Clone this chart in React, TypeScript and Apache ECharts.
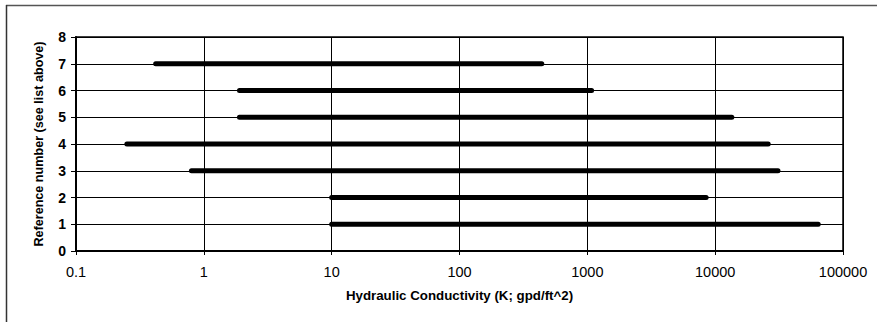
import React, { useEffect, useRef } from "react";
import * as echarts from "echarts";

const refNumbers = [1, 2, 3, 4, 5, 6, 7];
const kMin = [10, 10, 0.8, 0.25, 1.9, 1.9, 0.42];
const kMax = [64000, 8500, 31000, 26000, 13500, 1080, 440];
const xTickLabels = ["0.1", "1", "10", "100", "1000", "10000", "100000"];
const xAxisTitle = "Hydraulic Conductivity (K; gpd/ft^2)";
const yAxisTitle = "Reference number (see list above)";

export default function App() {
  const ref = useRef<HTMLDivElement>(null);
  useEffect(() => {
    if (!ref.current) return;
    const chart = echarts.init(ref.current, null, { renderer: "svg" });
    const series = refNumbers.map((r, i) => ({
      type: "line",
      data: [
        [kMin[i], r],
        [kMax[i], r],
      ],
      showSymbol: false,
      symbol: "none",
      lineStyle: { color: "#000", width: 5, cap: "round" },
      silent: true,
      z: 5,
    }));
    chart.setOption({
      animation: false,
      backgroundColor: "#fff",
      textStyle: { fontFamily: "Liberation Sans, Arial, sans-serif" },
      grid: {
        left: 76,
        right: 34,
        top: 37,
        bottom: 71,
        show: true,
        borderColor: "#000",
        borderWidth: 1.5,
      },
      xAxis: {
        type: "log",
        logBase: 10,
        min: 0.1,
        max: 100000,
        name: xAxisTitle,
        nameLocation: "middle",
        nameGap: 38,
        nameTextStyle: { fontWeight: "bold", fontSize: 13.3, color: "#000" },
        axisLine: { show: true, lineStyle: { color: "#000", width: 2 } },
        axisTick: { show: true, length: 4, lineStyle: { color: "#000" } },
        axisLabel: {
          color: "#000",
          fontSize: 14.5,
          margin: 13,
          formatter: (v: number) => {
            const idx = Math.round(Math.log10(v)) + 1;
            return xTickLabels[idx] ?? String(v);
          },
        },
        splitLine: { show: true, lineStyle: { color: "#000", width: 1 } },
        minorTick: { show: false },
      },
      yAxis: {
        type: "value",
        min: 0,
        max: 8,
        interval: 1,
        name: yAxisTitle,
        nameLocation: "middle",
        nameGap: 31,
        nameTextStyle: { fontWeight: "bold", fontSize: 12.6, color: "#000" },
        axisLine: { show: true, lineStyle: { color: "#000", width: 2 } },
        axisTick: { show: true, length: 5, lineStyle: { color: "#000" } },
        axisLabel: { color: "#000", fontSize: 14, fontWeight: "bold", margin: 10 },
        splitLine: { show: true, lineStyle: { color: "#000", width: 1 } },
      },
      graphic: [
        {
          type: "line",
          shape: { x1: 6, y1: 5.5, x2: 877, y2: 5.5 },
          style: { stroke: "#555", lineWidth: 1.5 },
        },
        {
          type: "line",
          shape: { x1: 6.5, y1: 5, x2: 6.5, y2: 322 },
          style: { stroke: "#333", lineWidth: 1.5 },
        },
      ],
      series,
    });
    return () => chart.dispose();
  }, []);
  return (
    <div
      ref={ref}
      style={{ position: "fixed", left: 0, top: 0, width: 877, height: 322 }}
    />
  );
}
